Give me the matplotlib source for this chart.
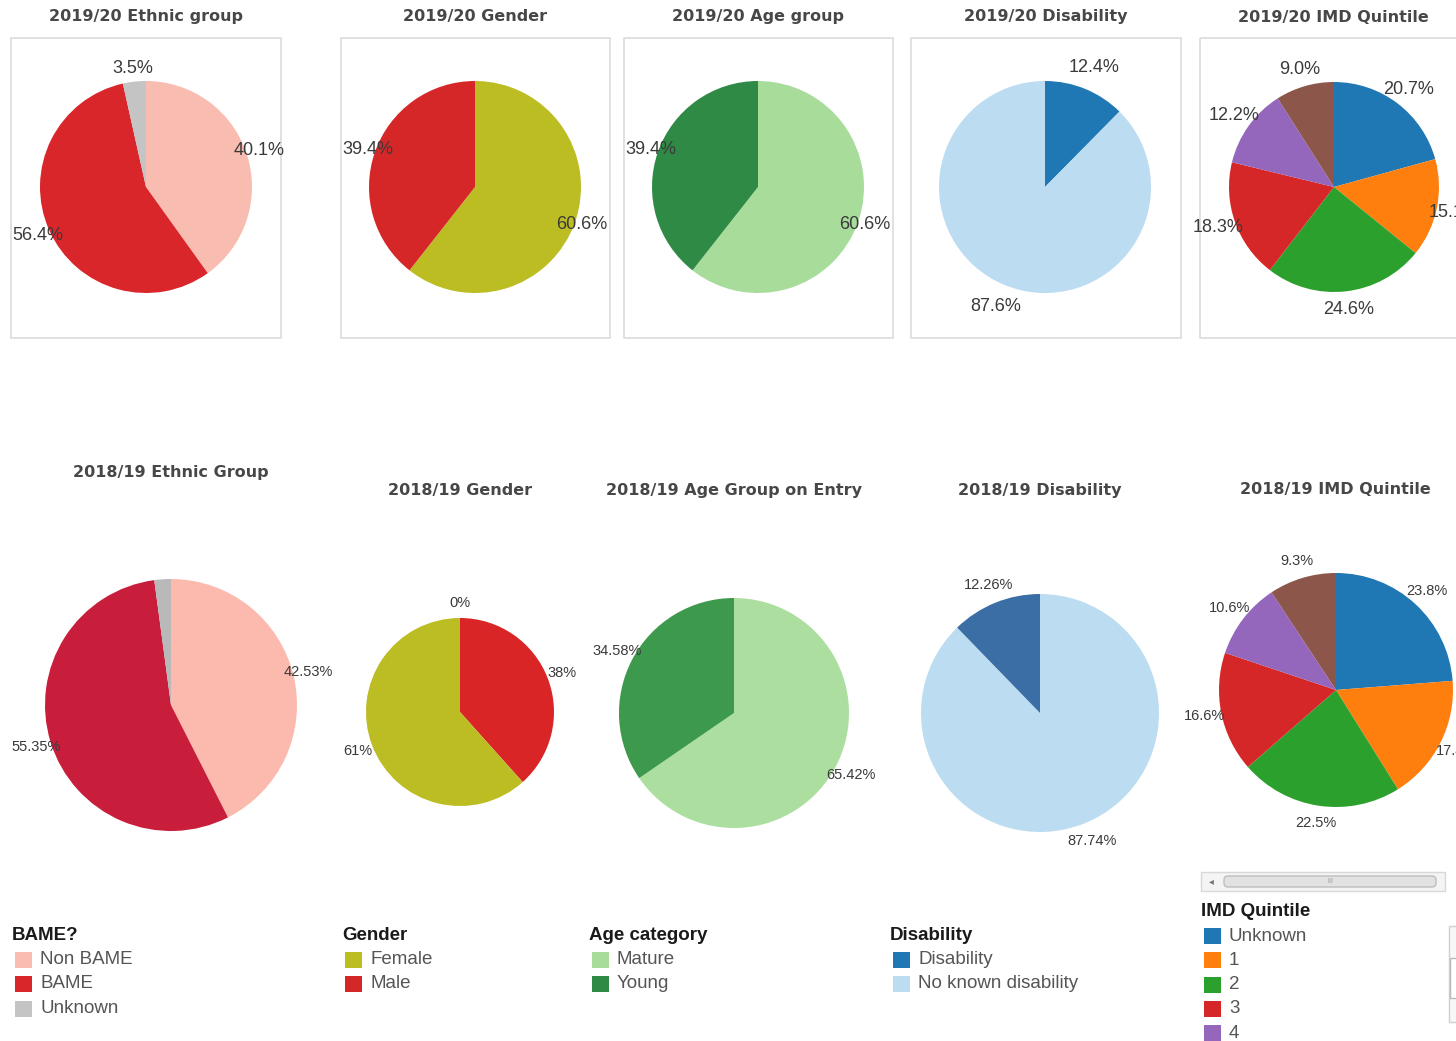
import matplotlib
matplotlib.use("Agg")
import matplotlib.pyplot as plt
from matplotlib.patches import Rectangle, FancyBboxPatch

# category names
bame_cats = ["Non BAME", "BAME", "Unknown"]
gender_cats = ["Female", "Male"]
age_cats = ["Mature", "Young"]
dis_cats = ["Disability", "No known disability"]
imd_cats = ["Unknown", "1", "2", "3", "4", "5"]

# 2019/20 shares (%)
eth_1920 = [40.1, 56.4, 3.5]            # Non BAME, BAME, Unknown
gender_1920 = [60.6, 39.4]              # Female, Male
age_1920 = [60.6, 39.4]                 # Mature, Young
dis_1920 = [12.4, 87.6]                 # Disability, No known
imd_1920 = [20.7, 15.1, 24.6, 18.3, 12.2, 9.0]

# 2018/19 shares (%)
eth_1819 = [42.53, 55.35, 2.12]         # Non BAME, BAME, Unknown
gender_1819 = [38, 61, 0]               # Male, Female, other
age_1819 = [65.42, 34.58]               # Mature, Young
dis_1819 = [87.74, 12.26]               # No known, Disability
imd_1819 = [23.8, 17.4, 22.5, 16.6, 10.6, 9.3]

imd_colors = ["#1f77b4", "#ff7f0e", "#2ca02c", "#d62728", "#9467bd", "#8c564b"]

W, H = 1456, 1041
fig = plt.figure(figsize=(W / 100, H / 100), dpi=100)
fig.patch.set_facecolor("white")

bg = fig.add_axes([0, 0, 1, 1])
bg.set_xlim(0, W)
bg.set_ylim(H, 0)
bg.axis("off")

TITLE = dict(fontsize=11.5, fontweight="bold", color="#474747", ha="center", va="center",
             family="DejaVu Sans")


def pie_at(cx, cy, r, values, colors, fmt, dist, fs, unlabelled=()):
    ax = fig.add_axes([(cx - r) / W, 1 - (cy + r) / H, 2 * r / W, 2 * r / H])
    labels = ["" if i in unlabelled else fmt.format(v) for i, v in enumerate(values)]
    ax.pie(values, colors=colors, startangle=90, counterclock=False,
           labels=labels, labeldistance=dist,
           wedgeprops=dict(linewidth=0),
           textprops=dict(fontsize=fs, color="#3a3a3a", family="Liberation Sans",
                          ha="center", va="center"))
    ax.set_xlim(-1, 1)
    ax.set_ylim(-1, 1)
    return ax


# top row: framed panels
for x0, x1 in [(11, 281), (341, 610), (624, 893), (911, 1181), (1200, 1470)]:
    bg.add_patch(Rectangle((x0, 38), x1 - x0, 300, fill=False, ec="#dcdcdc", lw=1.2))

bg.text(146, 17, "2019/20 Ethnic group", **TITLE)
bg.text(475, 17, "2019/20 Gender", **TITLE)
bg.text(758, 17, "2019/20 Age group", **TITLE)
bg.text(1046, 17, "2019/20 Disability", **TITLE)
bg.text(1333, 17, "2019/20 IMD Quintile", **TITLE)

pie_at(146, 187, 106, eth_1920, ["#f9bcb0", "#d9262a", "#c4c4c4"], "{:.1f}%", 1.12, 13)
pie_at(475, 187, 106, gender_1920, ["#bcbd22", "#d62728"], "{:.1f}%", 1.07, 13)
pie_at(758, 187, 106, age_1920, ["#a8dc9b", "#2e8a44"], "{:.1f}%", 1.07, 13)
pie_at(1045, 187, 106, dis_1920, ["#1f77b4", "#bbdcf1"], "{:.1f}%", 1.22, 13)
pie_at(1334, 187, 105, imd_1920, imd_colors, "{:.1f}%", 1.17, 13)

# bottom row
bg.text(171, 473, "2018/19 Ethnic Group", **TITLE)
bg.text(460, 490, "2018/19 Gender", **TITLE)
bg.text(734, 490, "2018/19 Age Group on Entry", **TITLE)
bg.text(1040, 490, "2018/19 Disability", **TITLE)
bg.text(1335, 490, "2018/19 IMD Quintile", **TITLE)

pie_at(171, 705, 126, eth_1819, ["#fbbaad", "#c81e3c", "#b9b9b9"], "{:.2f}%", 1.12, 10.5,
       unlabelled=(2,))
pie_at(460, 712, 94, gender_1819, ["#d92526", "#bcbd22", "#999999"], "{:.0f}%", 1.16, 10.5)
pie_at(734, 713, 115, age_1819, ["#acdea0", "#3d9a4c"], "{:.2f}%", 1.15, 10.5)
pie_at(1040, 713, 119, dis_1819, ["#bcdcf1", "#3c6ea6"], "{:.2f}%", 1.16, 10.5)
pie_at(1336, 690, 117, imd_1819, imd_colors, "{:.1f}%", 1.15, 10.5)

# legends
HEAD = dict(fontsize=13.5, fontweight="bold", color="#1a1a1a", family="Liberation Sans",
            ha="left", va="center")
ITEM = dict(fontsize=13.5, color="#555555", family="Liberation Sans", ha="left", va="center")


def legend_at(x, y, title, cats, colors, step=24.5):
    bg.text(x, y, title, **HEAD)
    for i, (c, col) in enumerate(zip(cats, colors)):
        yy = y + step * (i + 1)
        bg.add_patch(Rectangle((x + 3, yy - 8), 17, 16, fc=col, ec="none"))
        bg.text(x + 28, yy, c, **ITEM)


legend_at(12, 935, "BAME?", bame_cats, ["#f9bcb0", "#d9262a", "#c4c4c4"])
legend_at(342, 935, "Gender", gender_cats, ["#bcbd22", "#d62728"])
legend_at(589, 935, "Age category", age_cats, ["#a8dc9b", "#2e8a44"])
legend_at(890, 935, "Disability", dis_cats, ["#1f77b4", "#bbdcf1"])
legend_at(1201, 912, "IMD Quintile", imd_cats, imd_colors, step=24.2)

# horizontal scroll bar above the IMD legend
bg.add_patch(Rectangle((1201, 872), 244, 19, fc="#f4f4f4", ec="#d8d8d8", lw=1))
bg.add_patch(FancyBboxPatch((1224, 876), 212, 11, boxstyle="round,pad=0,rounding_size=4",
                            fc="#e2e2e2", ec="#bdbdbd", lw=1))
bg.text(1211, 881, "\u25c2", fontsize=7, color="#777777", ha="center", va="center")
bg.text(1330, 881, "III", fontsize=5, color="#999999", ha="center", va="center")
# vertical scroll control at the right edge
bg.add_patch(Rectangle((1449, 926), 12, 96, fc="#f7f7f7", ec="#d0d0d0", lw=1))
bg.add_patch(Rectangle((1450, 958), 10, 40, fc="#ffffff", ec="#bbbbbb", lw=1))

fig.savefig("out.png", dpi=100, facecolor="white")
